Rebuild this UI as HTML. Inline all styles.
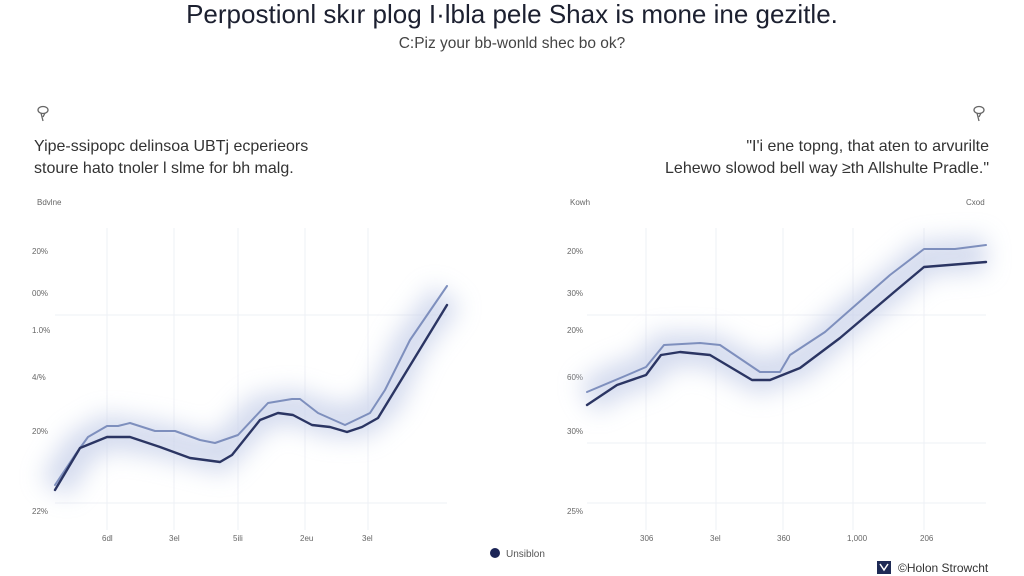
<!DOCTYPE html>
<html><head><meta charset="utf-8"><style>
html,body{margin:0;padding:0;background:#fff;}
body{width:1024px;height:576px;overflow:hidden;position:relative;font-family:"Liberation Sans",sans-serif;color:#2a2e3a;}
.t{position:absolute;white-space:nowrap;}
</style></head><body>
<div class="t" style="left:0;width:1024px;text-align:center;top:-1px;font-size:26px;color:#1c2030;">Perpostionl skır plog I·lbla pele Shax is mone ine gezitle.</div>
<div class="t" style="left:0;width:1024px;text-align:center;top:35px;font-size:15.5px;color:#444;">C:Piz your bb-wonld shec bo ok?</div>
<div class="t" style="left:34px;top:138px;font-size:16px;color:#333;">Yipe-ssipopc delinsoa UBTj ecperieors</div>
<div class="t" style="left:34px;top:160px;font-size:16px;color:#333;">stoure hato tnoler l slme for bh malg.</div>
<div class="t" style="right:35px;top:138px;font-size:16px;color:#333;text-align:right;">"I'i ene topng, that aten to arvurilte</div>
<div class="t" style="right:35px;top:160px;font-size:16px;color:#333;text-align:right;">Lehewo slowod bell way ≥th Allshulte Pradle."</div>
<svg width="1024" height="576" style="position:absolute;left:0;top:0" xmlns="http://www.w3.org/2000/svg">
<defs><filter id="b" x="-20%" y="-50%" width="140%" height="200%"><feGaussianBlur stdDeviation="12"/></filter></defs>
<g fill="none" stroke="#666" stroke-width="1.3">
<ellipse cx="43" cy="110" rx="5" ry="3.5"/><path d="M41 113 l2 8 M45 113 l-2 4"/>
<ellipse cx="979" cy="110" rx="5" ry="3.5"/><path d="M977 113 l2 8 M981 113 l-2 4"/>
</g>
<g font-size="8" fill="#666" font-family="Liberation Sans,sans-serif">
<text x="37" y="205">Bdvlne</text>
<text x="570" y="205">Kowh</text><text x="966" y="205">Cxod</text>
<text x="32" y="254">20%</text><text x="32" y="296">00%</text><text x="32" y="333">1.0%</text><text x="32" y="380">4/%</text><text x="32" y="434">20%</text><text x="32" y="514">22%</text>
<text x="567" y="254">20%</text><text x="567" y="296">30%</text><text x="567" y="333">20%</text><text x="567" y="380">60%</text><text x="567" y="434">30%</text><text x="567" y="514">25%</text>
<text x="102" y="541">6dl</text><text x="169" y="541">3el</text><text x="233" y="541">5ili</text><text x="300" y="541">2eu</text><text x="362" y="541">3el</text>
<text x="640" y="541">306</text><text x="710" y="541">3el</text><text x="777" y="541">360</text><text x="847" y="541">1,000</text><text x="920" y="541">206</text>
</g>
<g stroke="#eef0f5" stroke-width="1">
<line x1="55" y1="315" x2="447" y2="315"/><line x1="55" y1="503" x2="447" y2="503"/>
<line x1="587" y1="315" x2="986" y2="315"/><line x1="587" y1="443" x2="986" y2="443"/><line x1="587" y1="503" x2="986" y2="503"/>
<line x1="107" y1="228" x2="107" y2="530"/><line x1="174" y1="228" x2="174" y2="530"/><line x1="238" y1="228" x2="238" y2="530"/><line x1="305" y1="228" x2="305" y2="530"/><line x1="368" y1="228" x2="368" y2="530"/>
<line x1="646" y1="228" x2="646" y2="530"/><line x1="716" y1="228" x2="716" y2="530"/><line x1="783" y1="228" x2="783" y2="530"/><line x1="853" y1="228" x2="853" y2="530"/><line x1="924" y1="228" x2="924" y2="530"/>
</g>
<g fill="none" stroke="#c9d2ea" stroke-width="34" filter="url(#b)" opacity="0.8">
<polyline points="55,488 80,448 107,432 160,440 220,455 260,412 293,407 330,420 362,420 385,400 410,345 447,296"/>
<polyline points="587,398 617,380 646,371 664,350 710,350 760,376 800,362 850,318 893,285 924,258 986,254"/>
</g>
<g fill="none" stroke-linejoin="round" stroke-linecap="round">
<polyline stroke="#7e8fbd" stroke-width="2" points="55,485 75,455 88,437 107,426 118,426 130,423 155,431 175,431 200,440 215,443 238,435 268,403 292,399 300,399 318,413 345,425 370,413 385,390 410,340 447,286"/>
<polyline stroke="#2b3563" stroke-width="2.4" points="55,490 80,448 107,437 130,437 160,447 190,458 220,462 232,455 260,420 278,413 293,415 312,425 330,427 347,432 362,427 378,418 447,305"/>
<polyline stroke="#7e8fbd" stroke-width="2" points="587,392 625,376 646,367 664,345 700,343 720,345 760,372 780,372 790,355 825,332 850,310 890,275 924,249 955,249 986,245"/>
<polyline stroke="#2b3563" stroke-width="2.4" points="587,405 617,385 646,375 661,355 680,352 710,355 752,380 770,380 800,368 840,338 893,293 924,267 986,262"/>
</g>
<circle cx="495" cy="553" r="5" fill="#1b2456"/>
<text x="506" y="557" font-size="10" fill="#555" font-family="Liberation Sans,sans-serif">Unsiblon</text>
<rect x="877" y="561" width="14" height="13" fill="#1e2a55"/>
<path d="M880 564 l4 6 l4 -6" stroke="#fff" stroke-width="1.5" fill="none"/>
<text x="898" y="572" font-size="12" fill="#333" font-family="Liberation Sans,sans-serif">©Holon Strowcht</text>
</svg>
</body></html>
